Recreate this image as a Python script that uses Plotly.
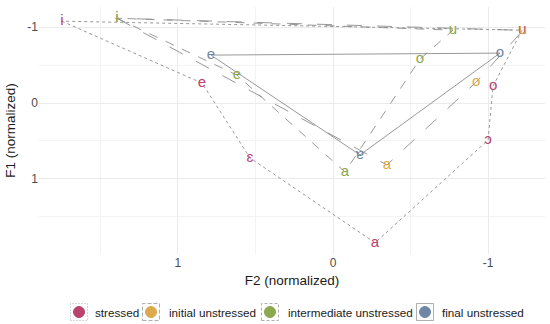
import plotly.graph_objects as go

# ---- data (normalized formants) ----
stressed_vowels = ["i", "e", "ɛ", "a", "ɔ", "o", "u"]
stressed_f2 = [1.748, 0.845, 0.535, -0.271, -1.0, -1.032, -1.219]
stressed_f1 = [-1.079, -0.263, 0.724, 1.842, 0.487, -0.224, -0.961]

initial_vowels = ["ɨ", "a", "o", "u"]
initial_f2 = [1.394, -0.348, -0.923, -1.225]
initial_f1 = [-1.118, 0.816, -0.276, -0.958]

intermediate_vowels = ["ɨ", "e", "a", "o", "u"]
intermediate_f2 = [1.394, 0.619, -0.077, -0.561, -0.774]
intermediate_f1 = [-1.118, -0.368, 0.908, -0.579, -0.961]

final_vowels = ["e", "ɐ", "o"]
final_f2 = [0.787, -0.174, -1.077]
final_f1 = [-0.632, 0.684, -0.658]

groups = ["stressed", "initial unstressed", "intermediate unstressed", "final unstressed"]
colors = ["#B8436E", "#DDA94A", "#8DA84E", "#6F87A6"]
dashes = ["dot", "longdash", "dash", "solid"]
box_dashes = ["1px,2px", "4px,2px", "3px,2px", "solid"]

series = [
    (stressed_vowels, stressed_f2, stressed_f1),
    (initial_vowels, initial_f2, initial_f1),
    (intermediate_vowels, intermediate_f2, intermediate_f1),
    (final_vowels, final_f2, final_f1),
]

fig = go.Figure()

# polygons
for (v, f2, f1), col, dash in zip(series, colors, dashes):
    fig.add_trace(go.Scatter(
        x=list(f2) + [f2[0]], y=list(f1) + [f1[0]],
        mode="lines", line=dict(color="#8C8C8C", width=0.9, dash=dash),
        hoverinfo="skip", showlegend=False))

# labels
for (v, f2, f1), col in zip(series, colors):
    fig.add_trace(go.Scatter(
        x=f2, y=f1, mode="text", text=v, textposition="middle center",
        textfont=dict(color=col, size=15, family="Liberation Sans, Arial, sans-serif"),
        showlegend=False))

# ---- manual legend (pixel positions converted to paper coords) ----
L, R, T, B = 39, 545, 7, 254
W, H = R - L, B - T
def px(x):
    return (x - L) / W
def py(y):
    return (B - y) / H

legend_items = [
    (79, 93),
    (151, 167),
    (270, 286),
    (425, 440),
]
cy = 312
for (cx, tx), name, col, bd in zip(legend_items, groups, colors, box_dashes):
    fig.add_shape(type="rect", xref="paper", yref="paper",
                  x0=px(cx - 8.5), x1=px(cx + 8.5), y0=py(cy + 8.5), y1=py(cy - 8.5),
                  line=dict(color="#9A9A9A", width=0.8, dash=bd), fillcolor="rgba(0,0,0,0)")
    fig.add_shape(type="circle", xref="paper", yref="paper",
                  x0=px(cx - 5.5), x1=px(cx + 5.5), y0=py(cy + 5.5), y1=py(cy - 5.5),
                  line=dict(color=col, width=1), fillcolor=col)
    fig.add_annotation(xref="paper", yref="paper", x=px(tx), y=py(cy),
                       text=name, showarrow=False, xanchor="left", yanchor="middle",
                       font=dict(size=11.7, color="#1A1A1A"))

grid = "#EBEBEB"
fig.update_xaxes(
    range=[1.896, -1.367], autorange=False,
    tickvals=[1, 0, -1], ticktext=["1", "0", "-1"],
    showgrid=True, gridcolor=grid, gridwidth=1,
    minor=dict(tickvals=[1.5, 0.5, -0.5], showgrid=True, gridcolor="#F3F3F3", gridwidth=0.6),
    zeroline=False, showline=False, ticks="",
    tickfont=dict(size=12, color="#4D4D4D"),
    automargin=False,
    title=dict(text="F2 (normalized)", font=dict(size=13.5, color="#1A1A1A"), standoff=6),
)
fig.update_yaxes(
    range=[1.99, -1.266], autorange=False,
    tickvals=[-1, 0, 1, 2], ticktext=["-1", "0", "1", "2"],
    showgrid=True, gridcolor=grid, gridwidth=1,
    minor=dict(tickvals=[-0.5, 0.5, 1.5], showgrid=True, gridcolor="#F3F3F3", gridwidth=0.6),
    zeroline=False, showline=False, ticks="",
    tickfont=dict(size=12, color="#4D4D4D"),
    automargin=False,
    title=dict(text="F1 (normalized)", font=dict(size=13.5, color="#1A1A1A"), standoff=8),
)
fig.update_layout(
    width=550, height=324,
    margin=dict(l=L, r=550 - R, t=T, b=324 - B),
    paper_bgcolor="white", plot_bgcolor="white",
    font=dict(family="Liberation Sans, Arial, sans-serif"),
    showlegend=False,
)
fig.write_html("out.html", config={"displayModeBar": False},
               post_script="document.body.style.margin='0';document.body.style.overflow='hidden';")
